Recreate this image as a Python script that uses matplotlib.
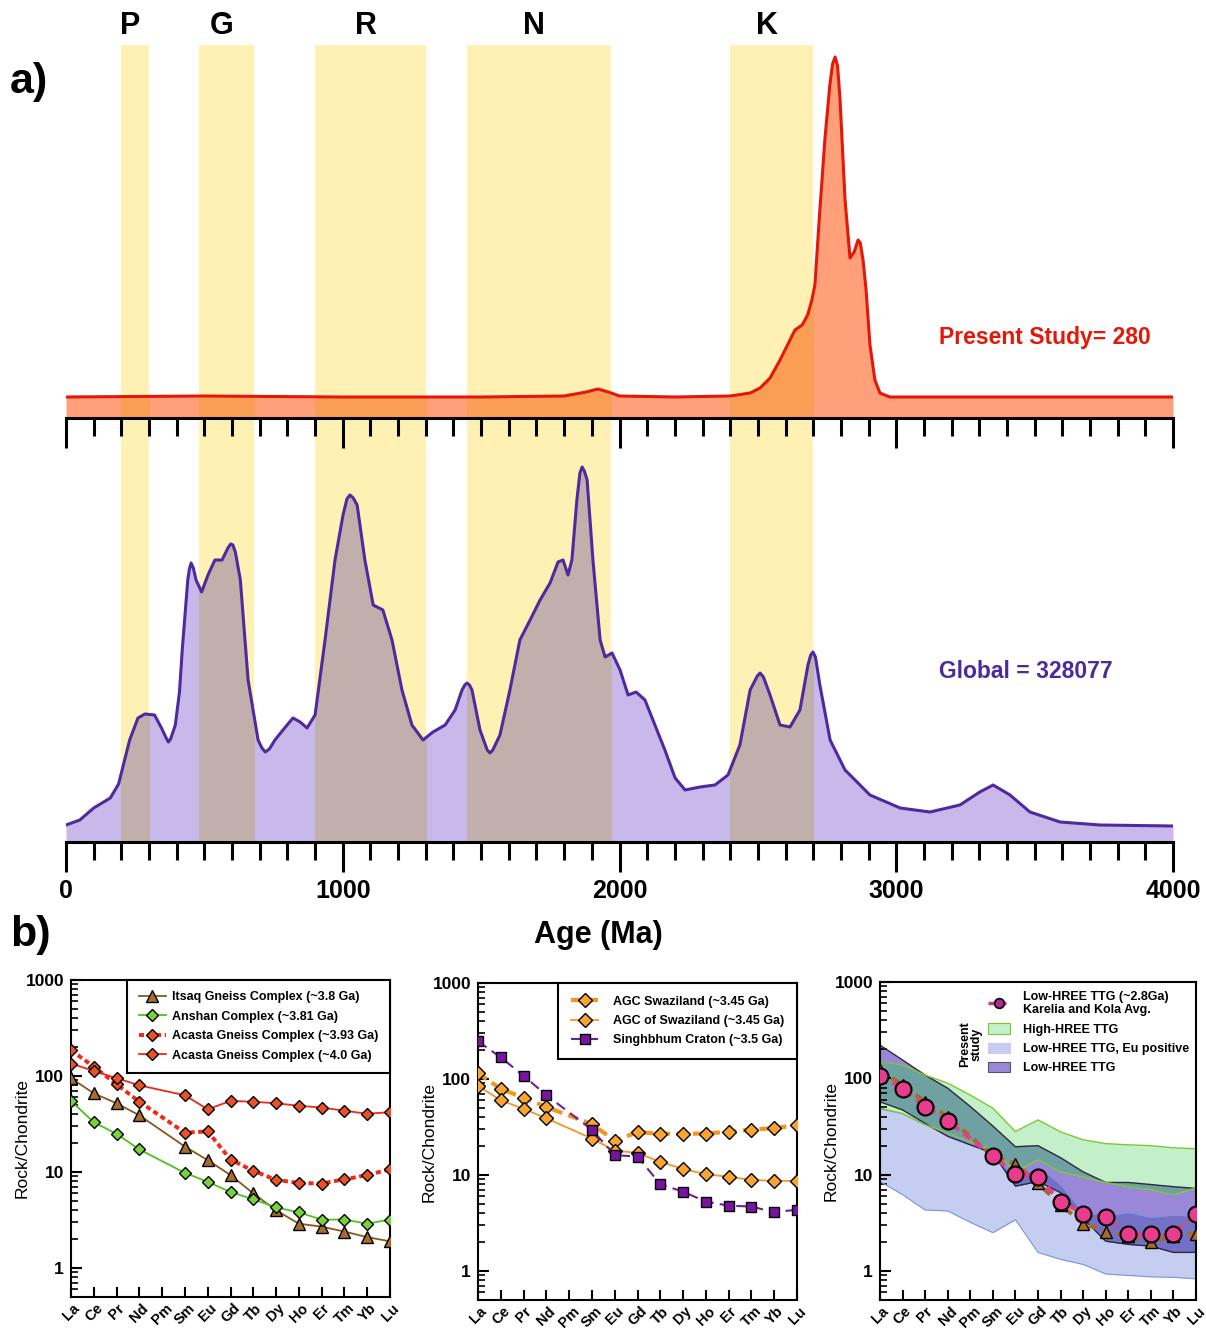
import matplotlib
matplotlib.use('Agg')
import matplotlib.pyplot as plt
import numpy as np
from matplotlib.patches import Rectangle, Patch
from matplotlib.lines import Line2D
from matplotlib.ticker import MultipleLocator, LogLocator, NullFormatter

plt.rcParams['font.family'] = ['Liberation Sans', 'DejaVu Sans']
plt.rcParams['font.weight'] = 'bold'

# ---------------- a) detrital zircon age spectra (relative probability, arb. units)
study_age = [0, 500, 1000, 1500, 1800, 1880, 1922, 1960, 2000, 2200, 2400, 2472, 2508,
             2544, 2580, 2616, 2634, 2660, 2680, 2695, 2706, 2724, 2742, 2760, 2770, 2779,
             2788, 2797, 2815, 2833, 2848, 2862, 2870, 2880, 2891, 2905, 2923, 2941, 2977, 3000, 4000]
study_dens = [21, 22, 21, 21, 22, 26, 29, 26, 22, 21, 22, 25, 30,
              40, 58, 78, 88, 93, 103, 118, 133, 208, 278, 333, 354, 361,
              352, 318, 218, 160, 166, 178, 175, 158, 128, 73, 38, 25, 21, 21, 21]

global_age = [0, 50, 100, 160, 190, 230, 260, 285, 320, 345, 362, 370, 378, 395, 410, 420, 440,
              446, 452, 460, 470, 490, 513, 538, 564, 585, 595, 603, 612, 630, 658, 694, 708,
              720, 735, 755, 790, 820, 846, 871, 900, 936, 972, 1001, 1015, 1026, 1038, 1052,
              1080, 1110, 1145, 1178, 1214, 1250, 1290, 1326, 1370, 1406, 1431, 1441, 1449,
              1458, 1467, 1496, 1522, 1532, 1542, 1568, 1604, 1640, 1677, 1713, 1749, 1778,
              1796, 1814, 1828, 1846, 1857, 1865, 1873, 1883, 1904, 1930, 1948, 1973, 2002,
              2031, 2060, 2092, 2128, 2164, 2201, 2237, 2291, 2345, 2392, 2435, 2472, 2498,
              2508, 2520, 2544, 2580, 2616, 2652, 2681, 2691, 2699, 2708, 2724, 2761, 2815,
              2905, 3014, 3122, 3230, 3302, 3350, 3411, 3483, 3592, 3736, 4000]
global_dens = [17, 22, 34, 44, 58, 102, 124, 128, 127, 114, 104, 100, 103, 117, 150, 192, 262,
               273, 279, 274, 262, 250, 267, 282, 282, 294, 298, 297, 290, 262, 162, 102, 94,
               90, 93, 102, 114, 124, 120, 114, 127, 202, 282, 327, 343, 347, 344, 337,
               282, 237, 232, 202, 152, 117, 102, 110, 117, 132, 152, 157, 159,
               157, 152, 112, 92, 89, 92, 107, 152, 202, 222, 242, 259, 280,
               282, 267, 282, 342, 369, 375, 371, 362, 282, 202, 185, 189, 172,
               147, 150, 142, 117, 92, 64, 52, 55, 57, 67, 97, 152, 166,
               169, 165, 147, 117, 115, 132, 177, 187, 190, 185, 157, 102, 72,
               47, 34, 30, 37, 50, 57, 47, 30, 20, 17, 16]

band_names = ['P', 'G', 'R', 'N', 'K']
band_start = [200, 480, 900, 1450, 2400]
band_end = [300, 680, 1300, 1970, 2700]

# ---------------- b) chondrite normalised REE patterns
REE = ['La', 'Ce', 'Pr', 'Nd', 'Pm', 'Sm', 'Eu', 'Gd', 'Tb', 'Dy', 'Ho', 'Er', 'Tm', 'Yb', 'Lu']
nan = np.nan
itsaq = [95, 66, 52, 39, nan, 18.4, 13.3, 9.3, 6.0, 4.0, 2.9, 2.7, 2.4, 2.1, 1.9]
anshan = [55, 33, 25, 17.2, nan, 9.8, 7.9, 6.2, 5.2, 4.3, 3.8, 3.2, 3.2, 2.9, 3.2]
acasta_393 = [186, 125, 82, 54, nan, 25.7, 26.5, 13.5, 10.3, 8.3, 7.7, 7.6, 8.4, 9.3, 10.7]
acasta_40 = [135, 113, 95, 80, nan, 63, 45, 55, 54, 52, 49, 47, 43.5, 40.5, 42]

agc_1 = [115, 79, 64, 51, nan, 34, 22.8, 27.9, 27, 27, 27, 28.3, 29.6, 30.9, 32.9]
agc_2 = [85, 60, 49, 39, nan, 24, 18, 17, 13.7, 11.6, 10.2, 9.6, 8.9, 8.7, 8.7]
singhbhum = [247, 168, 108, 68, nan, 29.6, 16.1, 15.6, 8.05, 6.7, 5.3, 4.8, 4.7, 4.1, 4.36]

karelia = [107, 78, 51, 36, nan, 15.5, 10.2, 9.5, 5.25, 3.95, 3.6, 2.4, 2.4, 2.4, 3.95]
ttg_brown = [122, 85, 57, 40, nan, 15.5, 13, 8.1, 4.9, 3.1, 2.57, 2.3, 2.0, 2.3, 2.45]

green_hi = [149, 137, 108, 89, 67, 49, 28, 37, 27.8, 23, 21, 20.4, 20, 19, 18.6]
green_lo = [49, 43, 33, 27, 22, 18, 10.8, 14.3, 10.7, 9.5, 8.3, 7.5, 7.0, 6.2, 7.3]
purple_hi = [221, 155, 108, 79, 51, 32, 19.5, 20, 15, 10.7, 8.3, 8.3, 7.9, 7.5, 7.2]
purple_lo = [57, 47, 34, 25, 20.4, 16.7, 7.6, 8.5, 6.5, 3.5, 2.04, 1.89, 1.81, 1.56, 1.56]
blue_hi = [48, 43, 33, 26, 21, 17, 9, 12.1, 7.9, 4.05, 3.7, 4.05, 3.6, 3.8, 3.7]
blue_lo = [8.5, 6.2, 4.3, 4.2, 3.2, 2.5, 3.4, 1.56, 1.32, 1.17, 0.93, 0.9, 0.87, 0.86, 0.83]

W, H = 1206, 1330
fig = plt.figure(figsize=(W / 100, H / 100), dpi=100)


def px_axes(x0, y0, x1, y1):
    return fig.add_axes([x0 / W, 1 - y1 / H, (x1 - x0) / W, (y1 - y0) / H])


def ftext(x, y, s, **kw):
    fig.text(x / W, 1 - y / H, s, **kw)


def kde_panel(ax, age, dens, top, base, over, line):
    for s, e in zip(band_start, band_end):
        ax.axvspan(s, e, color='#FFF1B3', lw=0, zorder=0)
    ax.fill_between(age, 0, dens, color=base, lw=0, zorder=1)
    for s, e in zip(band_start, band_end):
        poly = ax.fill_between(age, 0, dens, color=over, lw=0, zorder=1.5)
        poly.set_clip_path(Rectangle((s, 0), e - s, top, transform=ax.transData))
    ax.plot(age, dens, color=line, lw=2.2, zorder=3, solid_joinstyle='round')
    ax.set_xlim(0, 4000)
    ax.set_ylim(0, top)
    ax.patch.set_visible(False)
    for sp in ['left', 'right', 'top']:
        ax.spines[sp].set_visible(False)
    ax.spines['bottom'].set_linewidth(2.2)
    ax.spines['bottom'].set_zorder(4)
    ax.set_yticks([])
    ax.xaxis.set_major_locator(MultipleLocator(1000))
    ax.xaxis.set_minor_locator(MultipleLocator(100))
    ax.tick_params(axis='x', which='major', direction='out', length=21.5, width=2.2, labelsize=18, pad=5)
    ax.tick_params(axis='x', which='minor', direction='out', length=13, width=2.2)


ax_bot = px_axes(66, 418, 1173, 842)
ax_top = px_axes(66, 45, 1173, 418)
ax_top.set_zorder(3)

kde_panel(ax_top, study_age, study_dens, 373, '#FFA07A', '#FA9E55', '#E3170A')
ax_top.tick_params(axis='x', labelbottom=False)
kde_panel(ax_bot, global_age, global_dens, 424, '#C9B9EB', '#C0AFAA', '#4F2A9E')

for name, s, e in zip(band_names, band_start, band_end):
    ax_top.text((s + e) / 2 - 18, 1.051, name, transform=ax_top.get_xaxis_transform(),
                ha='center', va='center', fontsize=22)

ftext(939, 337, 'Present Study= 280', color='#E3170A', fontsize=16.5, ha='left', va='center')
ftext(939, 672, 'Global = 328077', color='#4A2A9C', fontsize=16.5, ha='left', va='center')
ftext(10, 82, 'a)', fontsize=31, ha='left', va='center')
ftext(10, 935, 'b)', fontsize=31, ha='left', va='center')
ftext(598, 935, 'Age (Ma)', fontsize=22, ha='center', va='center')

# ---------------- REE panels
xr = np.arange(len(REE))


def ok(vals):
    v = np.array(vals, dtype=float)
    m = ~np.isnan(v)
    return xr[m], v[m]


def ree_axes(ax):
    ax.set_yscale('log')
    ax.set_xlim(0, 14)
    ax.set_ylim(0.5, 1000)
    ax.set_xticks(xr)
    ax.set_xticklabels(REE, rotation=45, fontsize=10.5, ha='center')
    ax.set_yticks([1, 10, 100, 1000], labels=['1', '10', '100', '1000'])
    ax.yaxis.set_minor_locator(LogLocator(base=10, subs=np.arange(2, 10)))
    ax.yaxis.set_minor_formatter(NullFormatter())
    ax.tick_params(axis='y', which='major', direction='in', length=8, width=1.5, labelsize=12.5, pad=5)
    ax.tick_params(axis='y', which='minor', direction='in', length=5, width=1.2)
    ax.tick_params(axis='x', direction='in', length=7, width=1.5, pad=3)
    for sp in ax.spines.values():
        sp.set_linewidth(1.5)
    ax.set_ylabel('Rock/Chondrite', fontsize=12.5)
    ax.yaxis.set_label_coords(-0.13, 0.5)


def ree_legend(ax, borderpad, textpad):
    leg = ax.legend(loc='upper right', bbox_to_anchor=(1.0, 1.0), borderaxespad=0, fancybox=False,
                    edgecolor='black', framealpha=1, fontsize=9, handlelength=2.2,
                    labelspacing=0.6, borderpad=borderpad, handletextpad=textpad, numpoints=1)
    leg.get_frame().set_linewidth(1.5)
    return leg


# left panel
ax1 = px_axes(71, 980, 390, 1297)
ree_axes(ax1)
ax1.plot(*ok(itsaq), color='#8C551E', lw=1.3, marker='^', ms=9, mfc='#A56E2D', mec='black', mew=1,
         label='Itsaq Gneiss Complex (~3.8 Ga)', zorder=3)
ax1.plot(*ok(anshan), color='#4CC21E', lw=1.3, marker='D', ms=6, mfc='#78D23C', mec='black', mew=1,
         label='Anshan Complex (~3.81 Ga)', zorder=3)
ax1.plot(*ok(acasta_393), color='#F02814', lw=2.8, ls=(0, (1.3, 0.9)), marker='D', ms=6, mfc='#EB5028',
         mec='black', mew=1, label='Acasta Gneiss Complex (~3.93 Ga)', zorder=3)
ax1.plot(*ok(acasta_40), color='#F02814', lw=1.3, marker='D', ms=6, mfc='#EB5028', mec='black', mew=1,
         label='Acasta Gneiss Complex (~4.0 Ga)', zorder=3)
ree_legend(ax1, 0.9, 0.5)

# middle panel
ax2 = px_axes(478, 983, 797, 1300)
ree_axes(ax2)
ax2.plot(*ok(agc_1), color='#F5961E', lw=3, ls=(0, (2.5, 1.5)), marker='D', ms=7, mfc='#FAA532',
         mec='black', mew=1, label='AGC Swaziland (~3.45 Ga)', zorder=3)
ax2.plot(*ok(agc_2), color='#F5961E', lw=1.3, marker='D', ms=7, mfc='#FAA532', mec='black', mew=1,
         label='AGC of Swaziland (~3.45 Ga)', zorder=3)
ax2.plot(*ok(singhbhum), color='#6E1E96', lw=1.5, ls=(0, (5, 3)), marker='s', ms=7, mfc='#7814A0',
         mec='black', mew=1, label='Singhbhum Craton (~3.5 Ga)', zorder=3)
ree_legend(ax2, 1.0, 1.2)

# right panel
ax3 = px_axes(880, 982, 1196, 1300)
ree_axes(ax3)
gh, gl = np.array(green_hi), np.array(green_lo)
ph, pl = np.array(purple_hi), np.array(purple_lo)
bh, bl = np.array(blue_hi), np.array(blue_lo)
ax3.fill_between(xr, bl, bh, color='#C5CEF0', lw=0, zorder=1)
ax3.fill_between(xr, pl, ph, color='#9B87D8', lw=0, zorder=1.1)
ax3.fill_between(xr, gl, gh, color='#C3F0C8', lw=0, zorder=1.2)
for (lo1, hi1), (lo2, hi2), col in [((gl, gh), (pl, ph), '#6FA0A2'),
                                     ((bl, bh), (pl, ph), '#7370C6'),
                                     ((bl, bh), (gl, gh), '#A8D8D8')]:
    lo = np.maximum(lo1, lo2)
    hi = np.minimum(hi1, hi2)
    ax3.fill_between(xr, lo, hi, where=hi > lo, interpolate=True, color=col, lw=0, zorder=1.5)
ax3.plot(xr, bh, color='#7A96E0', lw=0.8, zorder=2)
ax3.plot(xr, bl, color='#7A96E0', lw=0.8, zorder=2)
ax3.plot(xr, gh, color='#7CC832', lw=1, zorder=2.2)
ax3.plot(xr, gl, color='#7CC832', lw=1, zorder=2.2)
ax3.plot(xr, ph, color='#2A2A3C', lw=1, zorder=2.1)
ax3.plot(xr, pl, color='#2A2A3C', lw=1, zorder=2.1)
ax3.plot(*ok(ttg_brown), color='#A86A28', lw=3, ls=(0, (2, 1.5)), marker='^', ms=9, mfc='#A86A28',
         mec='black', mew=1, zorder=4)
ax3.plot(*ok(karelia), color='#E83C8C', lw=3, ls=(0, (2, 1.5)), marker='o', ms=11.5, mfc='#E83C8C',
         mec='black', mew=1.5, zorder=5)

handles = [Line2D([], [], color='#C8329B', lw=2.5, ls=(0, (2, 1.2)), marker='o', ms=7, mfc='#B42896',
                  mec='black', mew=1.2),
           Patch(fc='#C3F0C8', ec='#7CC832', lw=0.8),
           Patch(fc='#C5CEF0', ec='#C5CEF0', lw=0.8),
           Patch(fc='#9B87D8', ec='#555566', lw=0.8)]
labels = ['Low-HREE TTG (~2.8Ga)\nKarelia and Kola Avg.', 'High-HREE TTG',
          'Low-HREE TTG, Eu positive', 'Low-HREE TTG']
leg3 = ax3.legend(handles, labels, loc='upper right', bbox_to_anchor=(0.99, 0.985), borderaxespad=0.1,
                  frameon=False, fontsize=9, handlelength=1.8, handleheight=0.9, labelspacing=0.55,
                  borderpad=0.2, handletextpad=1.0)
leg3.set_zorder(6)
ax3.text(0.288, 0.805, 'Present\nstudy', rotation=90, transform=ax3.transAxes, ha='center',
         va='center', fontsize=9, linespacing=0.95, zorder=6)

fig.savefig('out.png', dpi=100)
